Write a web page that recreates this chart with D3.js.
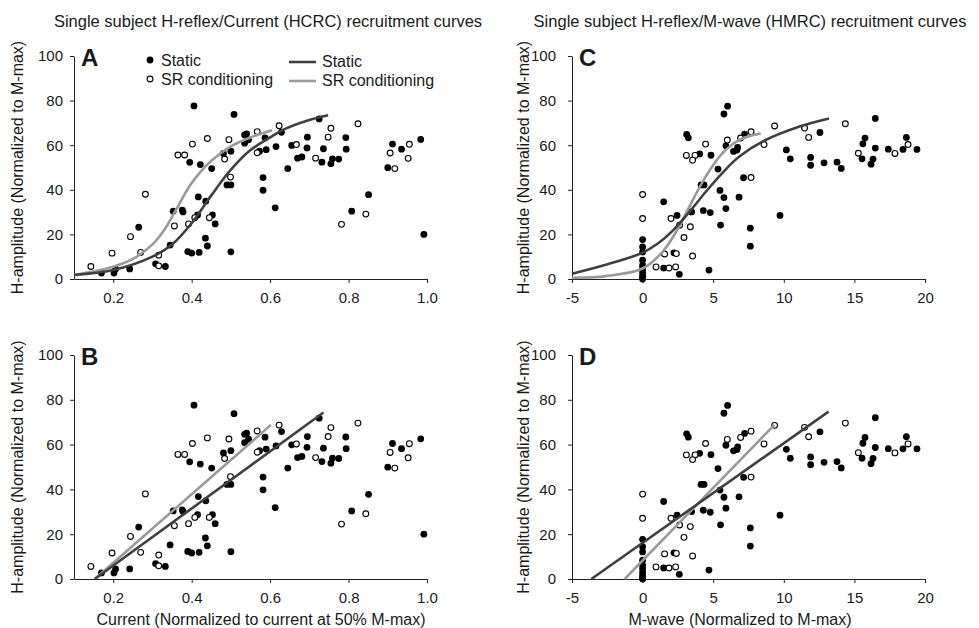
<!DOCTYPE html>
<html>
<head>
<meta charset="utf-8">
<title>Single subject H-reflex recruitment curves</title>
<script src="https://cdn.jsdelivr.net/npm/d3@7/dist/d3.min.js"></script>
<style>
    body { margin: 0; background: #fff; }
    svg text { font-family: "Liberation Sans", Arial, sans-serif; fill: #1a1a1a; }
    .tick text { font-family: "Liberation Sans Narrow", "Arial Narrow", "Liberation Sans", sans-serif; font-size: 15px; }
</style>
</head>
<body>
<svg id="visSvg"></svg>
<script>
    // H amplitude vs stimulus current (panels A and B)
    const currentStatic = [
        [0.406,77.6],[0.508,73.8],[0.535,64.6],[0.54,65.1],[0.545,62.4],[0.535,60.9],[0.587,63.3],[0.629,65.8],
        [0.725,71.8],[0.695,63.6],[0.481,56.3],[0.5,57.3],[0.395,52.3],[0.422,51.3],[0.451,49.5],[0.573,57.3],
        [0.59,58],[0.615,59.4],[0.655,59.9],[0.694,58.8],[0.736,58.4],[0.67,54.2],[0.681,54.7],[0.732,52.4],
        [0.755,51.7],[0.759,53.9],[0.645,49.5],[0.582,45.5],[0.582,39.8],[0.49,42.2],[0.5,42.2],[0.613,31.9],
        [0.417,36.8],[0.436,34.9],[0.353,30.4],[0.376,30.9],[0.378,30.1],[0.415,28.7],[0.453,28.7],[0.46,24.7],
        [0.265,23.2],[0.435,18.3],[0.44,14.8],[0.345,15.2],[0.39,12.3],[0.4,11.6],[0.419,11.9],[0.5,12.2],
        [0.242,4.5],[0.206,4.5],[0.202,2.7],[0.17,2.7],[0.308,6.8],[0.333,5.6],[0.775,53.8],[0.793,63.4],
        [0.794,58.2],[0.851,37.8],[0.808,30.4],[0.912,60.5],[0.935,58.2],[0.9,49.9],[0.984,62.6],[0.992,20]
    ];
    const currentSR = [
        [0.143,5.6],[0.197,11.6],[0.244,19],[0.27,11.9],[0.282,38],[0.316,10.7],[0.316,5.9],[0.356,23.8],
        [0.392,24.7],[0.408,27.5],[0.445,27.5],[0.365,55.6],[0.382,55.6],[0.402,60.5],[0.44,63],[0.495,62.5],
        [0.484,53.8],[0.499,45.7],[0.567,66.1],[0.567,56.6],[0.623,68.7],[0.667,60.3],[0.716,54.2],[0.748,63.6],
        [0.755,67.6],[0.824,69.6],[0.782,24.5],[0.844,29.1],[0.906,56.5],[0.918,49.5],[0.955,60.4],[0.952,54.1]
    ];

    // H amplitude vs M-wave (panels C and D)
    const mwaveStatic = [
        [6.02,77.5],[5.76,74],[3.12,64.8],[3.24,63.3],[7.22,65],[12.56,65.7],[5.9,59.7],[4.04,56.1],[4.84,55.5],
        [6.44,57.2],[6.68,57.8],[6.73,59],[10.18,57.9],[10.46,53.9],[11.9,54.5],[11.9,51],[12.85,52.1],[13.77,52.4],
        [14.07,49.6],[5.34,49.3],[7.15,45.4],[4.14,42.2],[4.35,42.2],[5.48,39.7],[5.76,36.5],[6.83,36.7],[5.9,31.6],
        [1.49,34.6],[2.44,28.5],[3.47,30.1],[4.3,30.7],[4.79,29.8],[5.52,24.2],[7.63,22.8],[7.63,14.7],[9.73,28.5],
        [2.22,11.7],[1.49,4.9],[2.6,2.1],[4.7,4],[0,17.7],[0,14.4],[0,12.1],[0,8.4],[0,6.2],[0,4.7],[0,3.1],
        [0,1.7],[0,0.5],[0,0],[15.54,53.9],[16.18,51.5],[16.32,53.8],[15.6,60.6],[15.75,63.2],[16.48,72],
        [16.48,58.7],[17.4,58.2],[18.44,58.1],[18.68,63.5],[19.43,58.1]
    ];
    const mwaveSR = [
        [0,37.9],[0,27.1],[0.95,5.4],[1.87,4.9],[2.34,5.4],[1.56,11.2],[2.39,11.4],[2.01,27.1],[2.62,24.1],
        [2.93,18.6],[3.38,23.4],[3.54,10.3],[3.1,55.4],[3.71,55.4],[3.54,53.3],[4.46,60.5],[6.0,62.3],[6.94,63.2],
        [7.68,66],[7.68,45.5],[8.6,60.3],[9.35,68.6],[11.47,67.7],[11.76,63.5],[14.36,69.6],[15.28,56.4],
        [17.87,56.3],[18.8,60.3]
    ];

    // fitted sigmoid curves
    const currentSigStatic = [[0.1,1.8],[0.2,4],[0.3,10],[0.35,15.5],[0.4,25],[0.45,37.5],[0.5,49],[0.55,57.8],[0.6,63.5],[0.634,67],[0.694,71],[0.748,73.4]];
    const currentSigSR = [[0.1,1.8],[0.2,5.5],[0.25,9],[0.3,15.5],[0.33,22],[0.36,31],[0.4,43],[0.45,53],[0.5,59.5],[0.55,63.5],[0.605,66.7]];
    const mwaveSigStatic = [[-5,2.4],[-2.6,6.4],[0,11.8],[1.1,16],[2.1,21.5],[3.3,30],[4.46,39],[5.64,47.5],[6.83,54.8],[8.7,62.3],[11.07,68.3],[13.2,72]];
    const mwaveSigSR = [[-5,0.5],[-2.6,1.3],[0,4.7],[1.4,12.1],[2.58,23.4],[3.3,32.3],[4.46,45.8],[5.64,56.3],[6.83,62.3],[8.36,65.3]];

    // fitted straight lines (end points)
    const currentLinStatic = [[0.153,0],[0.736,74.3]];
    const currentLinSR = [[0.153,0],[0.602,68.8]];
    const mwaveLinStatic = [[-3.63,0],[13.17,74.7]];
    const mwaveLinSR = [[-1.27,0],[9.33,68.8]];

    const yTicks = [0, 20, 40, 60, 80, 100];
    const currentTicks = [0.2, 0.4, 0.6, 0.8, 1.0];
    const mwaveTicks = [-5, 0, 5, 10, 15, 20];
    const seriesNames = ["Static", "SR conditioning"];

    const titles = ["Single subject H-reflex/Current (HCRC) recruitment curves",
                    "Single subject H-reflex/M-wave (HMRC) recruitment curves"];
    const xLabels = ["Current (Normalized to current at 50% M-max)", "M-wave (Normalized to M-max)"];
    const yLabel = "H-amplitude (Normalized to M-max)";

    const darkGrey = "#404040", lightGrey = "#9a9a9a";

    let svg = d3.select("#visSvg").attr("width", 979).attr("height", 628);

    // panel layout
    let panels = [
        { letter: "A", col: 0, x0: 74, x1: 427, top: 56, bottom: 279, domain: [0.1, 1.0], ticks: currentTicks, fmt: d3.format(".1f"),
          stat: currentStatic, sr: currentSR, fitStat: currentSigStatic, fitSR: currentSigSR, curved: true },
        { letter: "B", col: 0, x0: 74, x1: 427, top: 355, bottom: 579, domain: [0.1, 1.0], ticks: currentTicks, fmt: d3.format(".1f"),
          stat: currentStatic, sr: currentSR, fitStat: currentLinStatic, fitSR: currentLinSR, curved: false },
        { letter: "C", col: 1, x0: 572, x1: 925, top: 56, bottom: 279, domain: [-5, 20], ticks: mwaveTicks, fmt: d => String(d),
          stat: mwaveStatic, sr: mwaveSR, fitStat: mwaveSigStatic, fitSR: mwaveSigSR, curved: true },
        { letter: "D", col: 1, x0: 572, x1: 925, top: 355, bottom: 579, domain: [-5, 20], ticks: mwaveTicks, fmt: d => String(d),
          stat: mwaveStatic, sr: mwaveSR, fitStat: mwaveLinStatic, fitSR: mwaveLinSR, curved: false }
    ];

    panels.forEach(p => {
        let x = d3.scaleLinear().domain(p.domain).range([p.x0, p.x1]);
        let y = d3.scaleLinear().domain([0, 100]).range([p.bottom, p.top]);
        let g = svg.append("g");

        // axes
        g.append("g")
            .attr("transform", `translate(0,${p.bottom})`)
            .call(d3.axisBottom(x).tickValues(p.ticks).tickFormat(p.fmt).tickSize(4).tickSizeOuter(0).tickPadding(9));
        g.append("g")
            .attr("transform", `translate(${p.x0},0)`)
            .call(d3.axisLeft(y).tickValues(yTicks).tickSize(4).tickSizeOuter(0).tickPadding(p.col == 0 ? 7 : 12));
        g.selectAll(".domain, .tick line").attr("stroke", "#222");

        // scatter points
        g.append("g").selectAll("circle")
            .data(p.stat)
            .join("circle")
            .attr("cx", d => x(d[0]))
            .attr("cy", d => y(d[1]))
            .attr("r", 3.4)
            .attr("fill", "#000");
        g.append("g").selectAll("circle")
            .data(p.sr)
            .join("circle")
            .attr("cx", d => x(d[0]))
            .attr("cy", d => y(d[1]))
            .attr("r", 2.9)
            .attr("fill", "#fff")
            .attr("stroke", "#000")
            .attr("stroke-width", 1.1);

        // fitted curves
        let line = d3.line().x(d => x(d[0])).y(d => y(d[1]))
            .curve(p.curved ? d3.curveCatmullRom.alpha(0.5) : d3.curveLinear);
        g.append("path").attr("d", line(p.fitSR))
            .attr("fill", "none").attr("stroke", lightGrey).attr("stroke-width", 2.6);
        g.append("path").attr("d", line(p.fitStat))
            .attr("fill", "none").attr("stroke", darkGrey).attr("stroke-width", 2.6);

        // panel letter
        g.append("text")
            .attr("x", p.x0 + 7)
            .attr("y", p.top + 10)
            .attr("font-size", 24)
            .attr("font-weight", "bold")
            .text(p.letter);

        // y axis label
        g.append("text")
            .attr("transform", `translate(${p.col == 0 ? 23 : 529},${(p.top + p.bottom) / 2}) rotate(-90)`)
            .attr("text-anchor", "middle")
            .attr("font-size", 16)
            .text(yLabel);
    });

    // column titles and x labels
    svg.selectAll(".title")
        .data(titles)
        .join("text")
        .attr("x", (d, i) => i == 0 ? 268 : 750)
        .attr("y", 27)
        .attr("text-anchor", "middle")
        .attr("font-size", 16.5)
        .text(d => d);
    svg.selectAll(".xlabel")
        .data(xLabels)
        .join("text")
        .attr("x", (d, i) => i == 0 ? 261 : 740)
        .attr("y", 625)
        .attr("text-anchor", "middle")
        .attr("font-size", 16)
        .text(d => d);

    // legend in panel A
    let legend = svg.append("g");
    legend.append("circle").attr("cx", 150).attr("cy", 60).attr("r", 3.4).attr("fill", "#000");
    legend.append("circle").attr("cx", 150).attr("cy", 79).attr("r", 2.9)
        .attr("fill", "#fff").attr("stroke", "#000").attr("stroke-width", 1.1);
    [darkGrey, lightGrey].forEach((c, i) => {
        legend.append("line")
            .attr("x1", 289).attr("x2", 316)
            .attr("y1", 62 + i * 19).attr("y2", 62 + i * 19)
            .attr("stroke", c).attr("stroke-width", 2.6);
    });
    seriesNames.forEach((s, i) => {
        legend.append("text").attr("x", 161).attr("y", 66 + i * 19).attr("font-size", 16).text(s);
        legend.append("text").attr("x", 322).attr("y", 67 + i * 19).attr("font-size", 16).text(s);
    });
</script>
</body>
</html>
